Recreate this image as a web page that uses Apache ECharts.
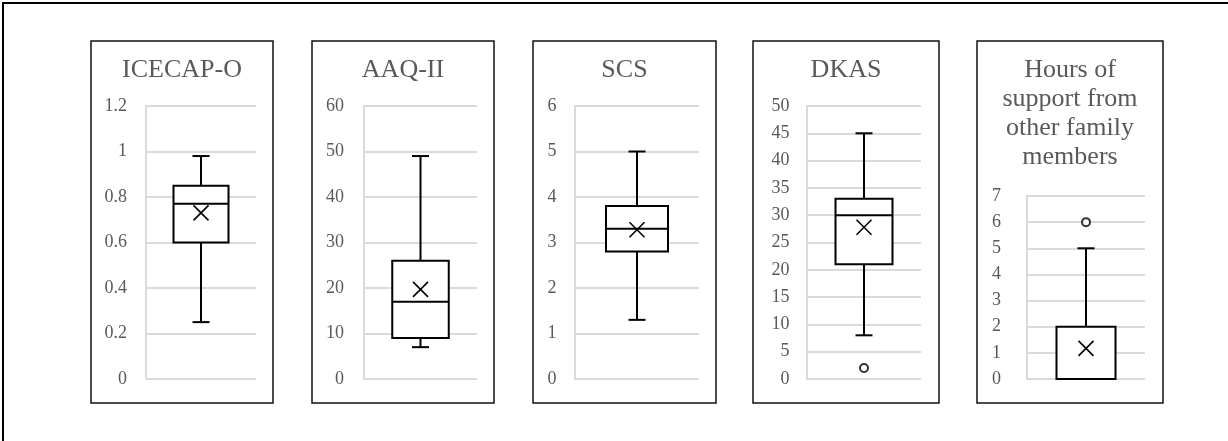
<!DOCTYPE html>
<html>
<head>
<meta charset="utf-8">
<script src="https://cdn.jsdelivr.net/npm/echarts@6/dist/echarts.min.js"></script>
<style>html,body{margin:0;padding:0;background:#fff;}#c{width:1228px;height:441px;}</style>
</head>
<body>
<div id="c"></div>
<script>
// ---- data ----
var titles = ['ICECAP-O', 'AAQ-II', 'SCS', 'DKAS', 'Hours of\nsupport from\nother family\nmembers'];
var yMax = [1.2, 60, 6, 50, 7];
var yInterval = [0.2, 10, 1, 5, 1];
var whiskerLow = [0.25, 7, 1.3, 8, 0];
var q1 = [0.60, 9, 2.8, 21, 0];
var median = [0.77, 17, 3.3, 30, 0];
var q3 = [0.85, 26, 3.8, 33, 2];
var whiskerHigh = [0.98, 49, 5, 45, 5];
var mean = [0.73, 19.7, 3.28, 27.8, 1.17];
var outliers = [[], [], [], [2], [6]];

// ---- layout ----
var panels = [
  {x: 91, w: 182, gl: 146, gw: 110, gt: 106, gh: 273, m: 19},
  {x: 312, w: 182, gl: 364, gw: 113, gt: 106, gh: 273, m: 20},
  {x: 533, w: 183, gl: 575, gw: 124, gt: 106, gh: 273, m: 18.5},
  {x: 753, w: 186, gl: 807, gw: 114, gt: 106, gh: 273, m: 17.5},
  {x: 977, w: 186, gl: 1027, gw: 118, gt: 196, gh: 183, m: 26}
];
var FONT = '"Liberation Serif", "Times New Roman", serif';
var GRAY = '#595959';
var GRID = '#dadada';

var grids = [], xAxes = [], yAxes = [], series = [], graphics = [];

graphics.push({type: 'rect', shape: {x: 3, y: 3, width: 1240, height: 460},
  style: {fill: 'none', stroke: '#000', lineWidth: 2}, z: 10});

panels.forEach(function (p, i) {
  graphics.push({type: 'rect', shape: {x: p.x, y: 41, width: p.w, height: 362},
    style: {fill: 'none', stroke: '#111', lineWidth: 1.5}, z: 10});
  graphics.push({type: 'text', x: p.x + p.w / 2, y: 56,
    style: {text: titles[i], font: '26px ' + FONT, fill: GRAY, align: 'center', verticalAlign: 'top', lineHeight: 29}, z: 10});
  grids.push({left: p.gl, top: p.gt, width: p.gw, height: p.gh});
  xAxes.push({type: 'category', gridIndex: i, data: [''],
    axisLine: {show: false}, axisTick: {show: false}, axisLabel: {show: false}, splitLine: {show: false}});
  yAxes.push({type: 'value', gridIndex: i, min: 0, max: yMax[i], interval: yInterval[i],
    axisLine: {show: true, lineStyle: {color: GRID, width: 2}},
    axisTick: {show: false},
    axisLabel: {color: GRAY, fontFamily: FONT, fontSize: 18, margin: p.m},
    splitLine: {show: true, lineStyle: {color: GRID, width: 2}}});
  series.push({
    type: 'custom', xAxisIndex: i, yAxisIndex: i,
    data: [[0, whiskerLow[i], q1[i], median[i], q3[i], whiskerHigh[i], mean[i]]],
    encode: {x: 0, y: [1, 2, 3, 4, 5, 6]},
    renderItem: function (params, api) {
      var cx = api.coord([0, 0])[0];
      var band = api.size([1, 0])[0];
      var half = band * 0.25;
      var cap = 8.5;
      var yLow = api.coord([0, api.value(1)])[1];
      var yQ1 = api.coord([0, api.value(2)])[1];
      var yMed = api.coord([0, api.value(3)])[1];
      var yQ3 = api.coord([0, api.value(4)])[1];
      var yHigh = api.coord([0, api.value(5)])[1];
      var yMean = api.coord([0, api.value(6)])[1];
      var ls = {stroke: '#000', lineWidth: 2};
      var xs = 7.5;
      return {type: 'group', children: [
        {type: 'line', shape: {x1: cx, y1: yQ3, x2: cx, y2: yHigh}, style: ls},
        {type: 'line', shape: {x1: cx, y1: yQ1, x2: cx, y2: yLow}, style: ls},
        {type: 'line', shape: {x1: cx - cap, y1: yHigh, x2: cx + cap, y2: yHigh}, style: ls},
        {type: 'line', shape: {x1: cx - cap, y1: yLow, x2: cx + cap, y2: yLow}, style: ls},
        {type: 'rect', shape: {x: cx - half, y: yQ3, width: half * 2, height: yQ1 - yQ3},
          style: {fill: '#fff', stroke: '#000', lineWidth: 2}},
        {type: 'line', shape: {x1: cx - half, y1: yMed, x2: cx + half, y2: yMed}, style: ls},
        {type: 'line', shape: {x1: cx - xs, y1: yMean - xs, x2: cx + xs, y2: yMean + xs}, style: {stroke: '#000', lineWidth: 1.6}},
        {type: 'line', shape: {x1: cx - xs, y1: yMean + xs, x2: cx + xs, y2: yMean - xs}, style: {stroke: '#000', lineWidth: 1.6}}
      ]};
    }
  });
  series.push({
    type: 'scatter', xAxisIndex: i, yAxisIndex: i,
    data: outliers[i].map(function (v) { return [0, v]; }),
    symbol: 'circle', symbolSize: 8,
    itemStyle: {color: '#fff', borderColor: '#000', borderWidth: 2},
    z: 5
  });
});

var chart = echarts.init(document.getElementById('c'), null, {renderer: 'canvas'});
chart.setOption({
  animation: false,
  backgroundColor: '#fff',
  grid: grids,
  xAxis: xAxes,
  yAxis: yAxes,
  series: series,
  graphic: graphics
});
</script>
</body>
</html>
